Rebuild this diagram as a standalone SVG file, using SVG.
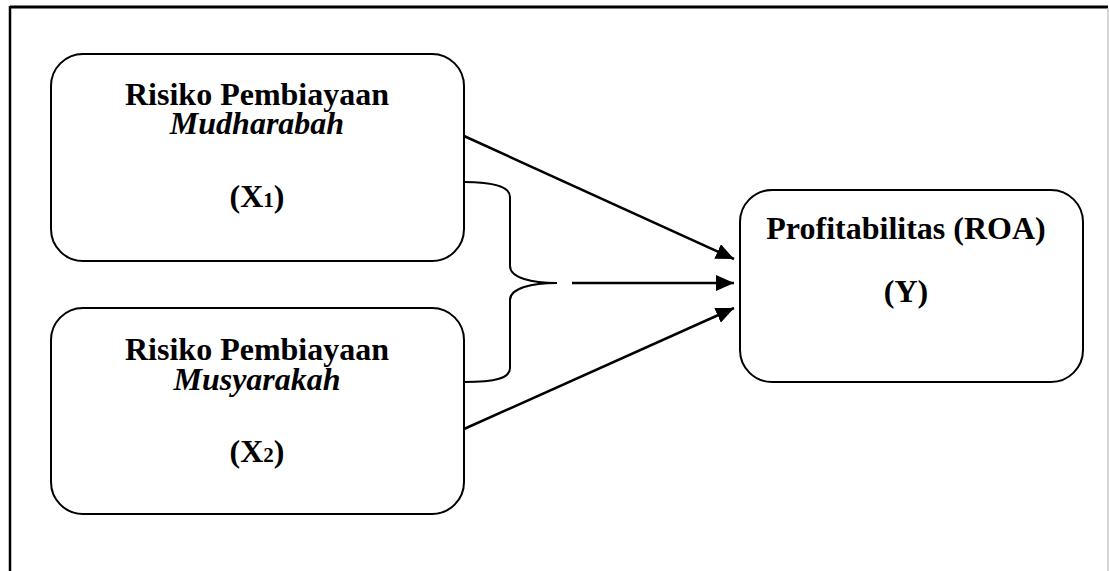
<svg xmlns="http://www.w3.org/2000/svg" width="1109" height="571" viewBox="0 0 1109 571">
<style>
.box{fill:#fff;stroke:#000;stroke-width:2}
.t{font-family:"Liberation Serif","Times New Roman",serif;font-size:32px;font-weight:bold;fill:#000;text-anchor:middle}
.i{font-style:italic}
.c{fill:none;stroke:#000;stroke-width:2.5}
.br{fill:none;stroke:#000;stroke-width:2}
</style>
<defs>
<marker id="ah" markerUnits="userSpaceOnUse" markerWidth="20" markerHeight="16" refX="18" refY="8" orient="auto">
<path d="M0,0 L18,8 L0,16 Z" fill="#000"/>
</marker>
</defs>
<rect x="0" y="0" width="1109" height="571" fill="#fff"/>
<g id="frame">
<line x1="10" y1="7" x2="1108" y2="7" stroke="#000" stroke-width="3"/>
<line x1="10" y1="6" x2="10" y2="571" stroke="#000" stroke-width="2.5"/>
<line x1="1108" y1="8" x2="1108" y2="571" stroke="#c8c8c8" stroke-width="1.5"/>
</g>
<g id="node-x1">
<rect class="box" x="51" y="54" width="413" height="207" rx="32" ry="32"/>
<text class="t" x="257" y="105">Risiko Pembiayaan<tspan class="i" x="257" dy="29">Mudharabah</tspan></text>
<text class="t" x="257" y="207">(X<tspan font-size="21">1</tspan>)</text>
</g>
<g id="node-x2">
<rect class="box" x="51" y="308" width="413" height="206" rx="32" ry="32"/>
<text class="t" x="257" y="360">Risiko Pembiayaan<tspan class="i" x="257" dy="30">Musyarakah</tspan></text>
<text class="t" x="257" y="462">(X<tspan font-size="21">2</tspan>)</text>
</g>
<g id="node-y">
<rect class="box" x="740" y="190" width="343" height="192" rx="32" ry="32"/>
<text class="t" x="906" y="239">Profitabilitas (ROA)</text>
<text class="t" x="906" y="302">(Y)</text>
</g>
<g id="connectors">
<path class="br" d="M464,182 C496,182 510,187 510,197 L510,266 C510,278 532,283 557,283 C532,283 510,288 510,300 L510,368 C510,378 496,382 464,382"/>
<line class="c" x1="464" y1="136" x2="734" y2="259" marker-end="url(#ah)"/>
<line class="c" x1="572" y1="283" x2="734" y2="283" marker-end="url(#ah)"/>
<line class="c" x1="464" y1="429" x2="734" y2="308" marker-end="url(#ah)"/>
</g>
</svg>
